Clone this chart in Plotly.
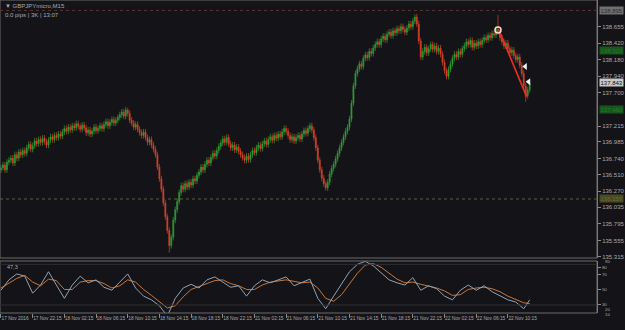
import plotly.graph_objects as go

# ---------------- data ----------------
FIRST_OPEN = 136.58
CLOSES = [
    136.61, 136.65, 136.58, 136.69, 136.72, 136.75, 136.68, 136.80, 136.75, 136.84,
    136.80, 136.86, 136.82, 136.90, 136.95, 136.88, 136.93, 137.00, 136.96, 137.02,
    136.98, 137.04, 136.99, 136.94, 137.01, 137.06, 137.02, 137.08, 137.05, 137.10,
    137.07, 137.13, 137.18, 137.14, 137.20, 137.16, 137.22, 137.19, 137.25, 137.21,
    137.17, 137.23, 137.19, 137.12, 137.16, 137.10, 137.14, 137.20, 137.15, 137.18,
    137.22, 137.18, 137.24, 137.28, 137.22, 137.27, 137.31, 137.26, 137.30, 137.34,
    137.38, 137.42, 137.36, 137.45, 137.40, 137.30, 137.26, 137.20, 137.24, 137.17,
    137.12, 137.08, 137.13, 137.05, 136.98, 137.02, 136.94, 136.88, 136.80, 136.62,
    136.45, 136.30, 136.10, 135.90, 135.70, 135.48, 135.60, 135.85, 136.00, 136.12,
    136.25, 136.35, 136.30, 136.38, 136.33, 136.40, 136.36, 136.45, 136.42, 136.50,
    136.55, 136.62, 136.58, 136.66, 136.72, 136.68, 136.76, 136.82, 136.78, 136.86,
    136.92, 136.97, 137.03, 136.98, 137.05, 136.96, 136.90, 136.94, 136.87, 136.91,
    136.85, 136.80, 136.76, 136.72, 136.78, 136.73, 136.80, 136.86, 136.83, 136.90,
    136.94, 136.89, 136.96, 137.00, 136.95, 137.02, 137.06, 137.01, 137.08, 137.04,
    137.10, 137.06, 137.13, 137.18, 137.14, 137.08, 137.02, 137.06, 137.00, 137.05,
    137.08, 137.03, 137.10, 137.15, 137.11, 137.18, 137.22, 137.16, 137.05, 136.90,
    136.72, 136.58, 136.46, 136.38, 136.32, 136.40, 136.52, 136.60, 136.66, 136.74,
    136.82, 136.90, 136.98, 137.06, 137.14, 137.20, 137.32, 137.55, 137.80, 137.98,
    138.05, 138.12, 138.08, 138.20, 138.25, 138.21, 138.30, 138.27, 138.35, 138.40,
    138.44, 138.40, 138.48, 138.52, 138.47, 138.55, 138.58, 138.53, 138.60, 138.57,
    138.63, 138.60, 138.66, 138.62, 138.58, 138.64, 138.70, 138.66, 138.74, 138.80,
    138.70, 138.45, 138.22, 138.30, 138.36, 138.28, 138.34, 138.40, 138.33, 138.38,
    138.30, 138.35, 138.26, 138.14, 138.02, 137.94, 138.04, 138.12, 138.20, 138.26,
    138.22, 138.30, 138.26, 138.34, 138.38, 138.44, 138.40, 138.46, 138.36, 138.42,
    138.38, 138.44, 138.40, 138.46, 138.50, 138.47, 138.53, 138.50, 138.56, 138.54,
    138.62, 138.58, 138.50, 138.44, 138.38, 138.42, 138.34, 138.28, 138.32, 138.24,
    138.18, 138.22, 138.10, 137.98, 137.80, 137.66, 137.74, 137.843,
]
EXTRA_HIGHS = {64: 137.48, 209: 138.84, 251: 138.83}
EXTRA_LOWS = {85: 135.38, 164: 136.28, 265: 137.57}
WICK = 0.045

TIME_LABELS = [
    "17 Nov 2016", "17 Nov 22:15", "18 Nov 02:15", "18 Nov 06:15", "18 Nov 10:15",
    "18 Nov 14:15", "18 Nov 18:15", "18 Nov 22:15", "21 Nov 02:15", "21 Nov 06:15",
    "21 Nov 10:15", "21 Nov 14:15", "21 Nov 18:15", "21 Nov 22:15", "22 Nov 02:15",
    "22 Nov 06:15", "22 Nov 10:15",
]
BARS_PER_LABEL = 16

PRICE_TICKS = [138.655, 138.420, 138.180, 137.940, 137.700, 137.215, 136.985,
               136.740, 136.510, 136.270, 136.035, 135.795, 135.555, 135.315]

STOCH_K = [49, 63, 71, 68, 45, 56, 74, 56, 38, 56, 68, 59, 63, 53, 49, 60, 71, 52, 41, 36,
           28, 14, 38, 52, 57, 52, 63, 67, 60, 53, 55, 41, 55, 63, 59, 63, 67, 55, 59, 64,
           38, 24, 41, 57, 74, 84, 88, 82, 72, 63, 59, 56, 66, 49, 55, 51, 41, 36, 49, 56,
           49, 55, 47, 41, 36, 33, 24, 36]
STOCH_D = [52, 58, 65, 69, 60, 55, 64, 62, 50, 50, 60, 62, 62, 58, 52, 55, 63, 60, 50, 42,
           34, 25, 28, 40, 50, 54, 57, 62, 63, 58, 55, 50, 50, 56, 60, 61, 63, 61, 59, 60,
           52, 38, 34, 43, 58, 72, 83, 85, 80, 72, 64, 59, 60, 57, 55, 52, 48, 42, 43, 50,
           52, 53, 51, 47, 41, 37, 32, 31]
STOCH_TICKS = [80, 70, 50, 30]
STOCH_EDGE_LABELS = ["90", "20", "10"]

TREND_BARS = [251.5, 265.5]
TREND_PRICES = [138.61, 137.64]
CIRCLE_BAR = [251]
CIRCLE_PRICE = [138.61]
ARROW_BARS = [264.8, 266.5]
ARROW_PRICES = [138.08, 137.86]

LAST_PRICE = 137.843
TOP_LINE_PRICE = 138.895
DOT_LINE_PRICE = 136.157
GREEN_LEVELS = [138.320, 137.460]

# ---------------- derived ----------------
n = len(CLOSES)
bars = list(range(n))
opens = [FIRST_OPEN] + CLOSES[:-1]
highs = [max(o, c) + WICK for o, c in zip(opens, CLOSES)]
lows = [min(o, c) - WICK for o, c in zip(opens, CLOSES)]
for b, v in EXTRA_HIGHS.items():
    highs[b] = v
for b, v in EXTRA_LOWS.items():
    lows[b] = v
ind_bars = list(range(0, n, 4)) + [n - 1]

GREEN = "#2f9e35"
RED = "#d8432a"
BG = "#141418"
AX = "#8a8a8a"
TXT = "#a9a9a9"
FONT = "Liberation Sans"

fig = go.Figure()
fig.add_trace(go.Candlestick(
    x=bars, open=opens, high=highs, low=lows, close=CLOSES,
    increasing=dict(line=dict(color=GREEN, width=0.7), fillcolor=GREEN),
    decreasing=dict(line=dict(color=RED, width=0.7), fillcolor=RED),
    whiskerwidth=0, xaxis="x", yaxis="y", showlegend=False, hoverinfo="skip",
))
fig.add_trace(go.Scatter(x=TREND_BARS, y=TREND_PRICES, mode="lines",
                         line=dict(color="#e8301e", width=1.6),
                         xaxis="x", yaxis="y", showlegend=False))
fig.add_trace(go.Scatter(x=CIRCLE_BAR, y=CIRCLE_PRICE, mode="markers",
                         marker=dict(symbol="circle-open", size=6, color="#ffd8d0",
                                     line=dict(width=1.5)),
                         xaxis="x", yaxis="y", showlegend=False))
fig.add_trace(go.Scatter(x=ARROW_BARS, y=ARROW_PRICES, mode="markers",
                         marker=dict(symbol="triangle-left", size=6, color="#f2f2f2"),
                         xaxis="x", yaxis="y", showlegend=False))
fig.add_trace(go.Scatter(x=ind_bars, y=STOCH_D, mode="lines",
                         line=dict(color="#c6773a", width=1),
                         xaxis="x", yaxis="y2", showlegend=False))
fig.add_trace(go.Scatter(x=ind_bars, y=STOCH_K, mode="lines",
                         line=dict(color="#8ea3b6", width=1),
                         xaxis="x", yaxis="y2", showlegend=False))

MAIN_BOTTOM = 55 / 313
IND_TOP = 52 / 313

shapes = [
    dict(type="rect", xref="paper", yref="paper", x0=0, x1=1, y0=MAIN_BOTTOM, y1=1,
         line=dict(color="#6a6a6a", width=1)),
    dict(type="rect", xref="paper", yref="paper", x0=0, x1=1, y0=0, y1=IND_TOP,
         line=dict(color="#6a6a6a", width=1)),
    dict(type="line", xref="paper", yref="y", x0=0, x1=1, y0=TOP_LINE_PRICE, y1=TOP_LINE_PRICE,
         line=dict(color="#5a3434", width=1, dash="dot")),
    dict(type="line", xref="paper", yref="y", x0=0, x1=1, y0=DOT_LINE_PRICE, y1=DOT_LINE_PRICE,
         line=dict(color="#5e5e36", width=1, dash="dot")),
    dict(type="line", xref="paper", yref="y2", x0=0, x1=1, y0=84, y1=84,
         line=dict(color="#2e2e32", width=1)),
    dict(type="line", xref="paper", yref="y2", x0=0, x1=1, y0=29, y1=29,
         line=dict(color="#2e2e32", width=1)),
]

ann = [
    dict(xref="paper", yref="paper", x=0.005, y=0.997, xanchor="left", yanchor="top",
         text="▼ GBPJPYmicro,M15", showarrow=False, font=dict(size=6, color=TXT, family=FONT)),
    dict(xref="paper", yref="paper", x=0.005, y=0.968, xanchor="left", yanchor="top",
         text="0.0 pips | 3K | 13:07", showarrow=False, font=dict(size=6, color=TXT, family=FONT)),
    dict(xref="paper", yref="paper", x=0.008, y=IND_TOP - 0.004, xanchor="left", yanchor="top",
         text="47,3", showarrow=False, font=dict(size=5.5, color=TXT, family=FONT)),
    dict(xref="paper", yref="y", x=1.004, y=LAST_PRICE, xanchor="left", yanchor="middle",
         text="%.3f" % LAST_PRICE, showarrow=False, bgcolor="#c8c8c8", borderpad=0.5,
         font=dict(size=6, color="#101010", family=FONT)),
    dict(xref="paper", yref="y", x=1.004, y=TOP_LINE_PRICE, xanchor="left", yanchor="middle",
         text="%.3f" % TOP_LINE_PRICE, showarrow=False, bgcolor="#6f6f6f", borderpad=0.5,
         font=dict(size=6, color="#303030", family=FONT)),
    dict(xref="paper", yref="y", x=1.004, y=DOT_LINE_PRICE, xanchor="left", yanchor="middle",
         text="%.3f" % DOT_LINE_PRICE, showarrow=False, bgcolor="#4a4a24", borderpad=0.5,
         font=dict(size=6, color="#6a6a30", family=FONT)),
]
for lv in GREEN_LEVELS:
    ann.append(dict(xref="paper", yref="y", x=1.004, y=lv, xanchor="left", yanchor="middle",
                    text="%.3f" % lv, showarrow=False, bgcolor="#17561c", borderpad=0.5,
                    font=dict(size=6, color="#2a7a2e", family=FONT)))
# edge labels of the oscillator scale, placed in paper space just inside/below the panel
for t, ypix in zip(STOCH_EDGE_LABELS, [261.5, 309.6, 314.8]):
    ann.append(dict(xref="paper", yref="paper", x=1.01, y=(313 - ypix) / 313,
                    xanchor="left", yanchor="middle", text=t, showarrow=False,
                    font=dict(size=4.4, color=TXT, family=FONT)))

fig.update_layout(
    width=625, height=330,
    margin=dict(l=0, r=22, t=0, b=17),
    paper_bgcolor=BG, plot_bgcolor=BG,
    showlegend=False,
    shapes=shapes, annotations=ann,
    font=dict(family=FONT, size=6, color=TXT),
    xaxis=dict(domain=[0, 1], range=[-0.5, 301], anchor="y2",
               tickvals=[i * BARS_PER_LABEL for i in range(len(TIME_LABELS))],
               ticktext=TIME_LABELS, ticks="outside", ticklen=4, tickcolor=AX,
               ticklabelposition="outside right", tickangle=0,
               tickfont=dict(size=4.8, color=TXT, family=FONT),
               showgrid=False, zeroline=False, showline=False,
               rangeslider=dict(visible=False), fixedrange=True),
    yaxis=dict(domain=[MAIN_BOTTOM, 1], range=[135.300, 139.047], side="right", anchor="x",
               tickvals=PRICE_TICKS, ticktext=["%.3f" % v for v in PRICE_TICKS],
               ticks="outside", ticklen=3, tickcolor=AX,
               tickfont=dict(size=6, color=TXT, family=FONT),
               showgrid=False, zeroline=False, showline=True, linecolor=AX),
    yaxis2=dict(domain=[0, IND_TOP], range=[18.2, 88.5], side="right", anchor="x",
                tickvals=STOCH_TICKS, ticktext=[str(v) for v in STOCH_TICKS],
                ticks="outside", ticklen=3, tickcolor=AX,
                tickfont=dict(size=4.4, color=TXT, family=FONT),
                showgrid=False, zeroline=False, showline=True, linecolor=AX),
)

fig.write_html("out.html")
